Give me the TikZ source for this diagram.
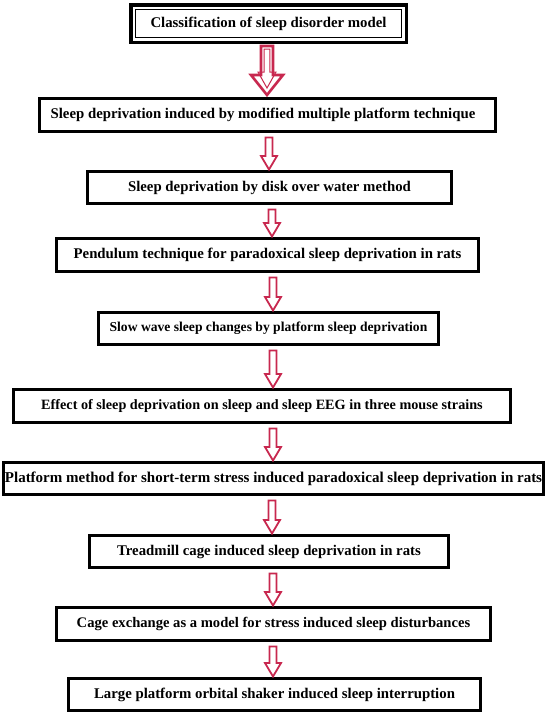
\documentclass[tikz,border=0pt]{standalone}
\usepackage{fontspec}
\setmainfont{Liberation Serif}
\usetikzlibrary{calc}
\definecolor{crim}{HTML}{C8284F}
\tikzset{
  box/.style={draw=black, line width=3pt, fill=white, inner sep=0pt, align=center,
    font=\fontsize{14.8}{17}\selectfont\bfseries},
  smallarrow/.style={draw=crim, line width=1.8pt, fill=white, line join=miter},
  bigarrow/.style={draw=crim, line width=2.6pt, fill=white, line join=miter},
  innerarrow/.style={draw=crim, line width=1pt, line join=miter},
}
\newcommand\flowarrow[3]{%
  \draw[smallarrow] let \p1=(#2.south), \p2=(#3.north) in
   ({#1pt-3.5pt},{\y1-4.5pt}) -- ({#1pt-3.5pt},{\y2+14pt}) -- ({#1pt-8pt},{\y2+14pt})
   -- ({#1pt},{\y2+0.5pt}) -- ({#1pt+8pt},{\y2+14pt}) -- ({#1pt+3.5pt},{\y2+14pt})
   -- ({#1pt+3.5pt},{\y1-4.5pt}) -- cycle;}
\begin{document}
\begin{tikzpicture}[x=1pt,y=-1pt]
\useasboundingbox[fill=white] (0,0) rectangle (547,715);
% boxes
\node[box, line width=3.5pt, minimum width=275.5pt, minimum height=37.5pt] (b1) at (268.5,23.5) {Classification of sleep disorder model};
\draw[black, line width=1.1pt] ([shift={(6.5,6.5)}]b1.north west) rectangle ([shift={(-6.5,-6.5)}]b1.south east);
\node[box, minimum width=456pt, minimum height=33pt] (b2) at (267.5,115) {Sleep deprivation induced by modified multiple platform technique\hspace*{9pt}};
\node[box, minimum width=364pt, minimum height=32pt] (b3) at (269.5,187.5) {Sleep deprivation by disk over water method};
\node[box, minimum width=422pt, minimum height=33pt] (b4) at (267.5,255) {Pendulum technique for paradoxical sleep deprivation in rats};
\node[box, minimum width=340pt, minimum height=32pt, font=\fontsize{13.6}{16}\selectfont\bfseries] (b5) at (268.5,328.5) {Slow wave sleep changes by platform sleep deprivation};
\node[box, minimum width=497pt, minimum height=33pt, font=\fontsize{14.2}{17}\selectfont\bfseries] (b6) at (262,406) {Effect of sleep deprivation on sleep and sleep EEG in three mouse strains};
\node[box, minimum width=540pt, minimum height=32pt, font=\fontsize{15}{17}\selectfont\bfseries] (b7) at (273.5,478.5) {Platform method for short-term stress induced paradoxical sleep deprivation in rats};
\node[box, minimum width=359pt, minimum height=32pt] (b8) at (269,551.5) {Treadmill cage induced sleep deprivation in rats};
\node[box, minimum width=434pt, minimum height=33pt, font=\fontsize{14.6}{17}\selectfont\bfseries] (b9) at (273.5,624) {Cage exchange as a model for stress induced sleep disturbances};
\node[box, minimum width=412pt, minimum height=32pt] (b10) at (274.5,694.5) {Large platform orbital shaker induced sleep interruption};
% big arrow
\draw[bigarrow] let \p1=(b1.south), \p2=(b2.north) in
  ({267pt-6pt},{\y1-2pt}) -- ({267pt-6pt},{\y2+22pt}) -- ({267pt-16pt},{\y2+22pt})
  -- ({267pt},{\y2+2pt}) -- ({267pt+16pt},{\y2+22pt}) -- ({267pt+6pt},{\y2+22pt})
  -- ({267pt+6pt},{\y1-2pt}) -- cycle;
\draw[innerarrow] let \p1=(b1.south), \p2=(b2.north) in
  ({267pt-2.8pt},{\y1-5pt}) -- ({267pt-2.8pt},{\y2+25pt}) -- ({267pt-9pt},{\y2+25pt})
  -- ({267pt},{\y2+9pt}) -- ({267pt+9pt},{\y2+25pt}) -- ({267pt+2.8pt},{\y2+25pt})
  -- ({267pt+2.8pt},{\y1-5pt}) -- cycle;
% small arrows
\flowarrow{269}{b2}{b3}
\flowarrow{272}{b3}{b4}
\flowarrow{273}{b4}{b5}
\flowarrow{273}{b5}{b6}
\flowarrow{273}{b6}{b7}
\flowarrow{272}{b7}{b8}
\flowarrow{273}{b8}{b9}
\flowarrow{273}{b9}{b10}
\end{tikzpicture}
\end{document}
